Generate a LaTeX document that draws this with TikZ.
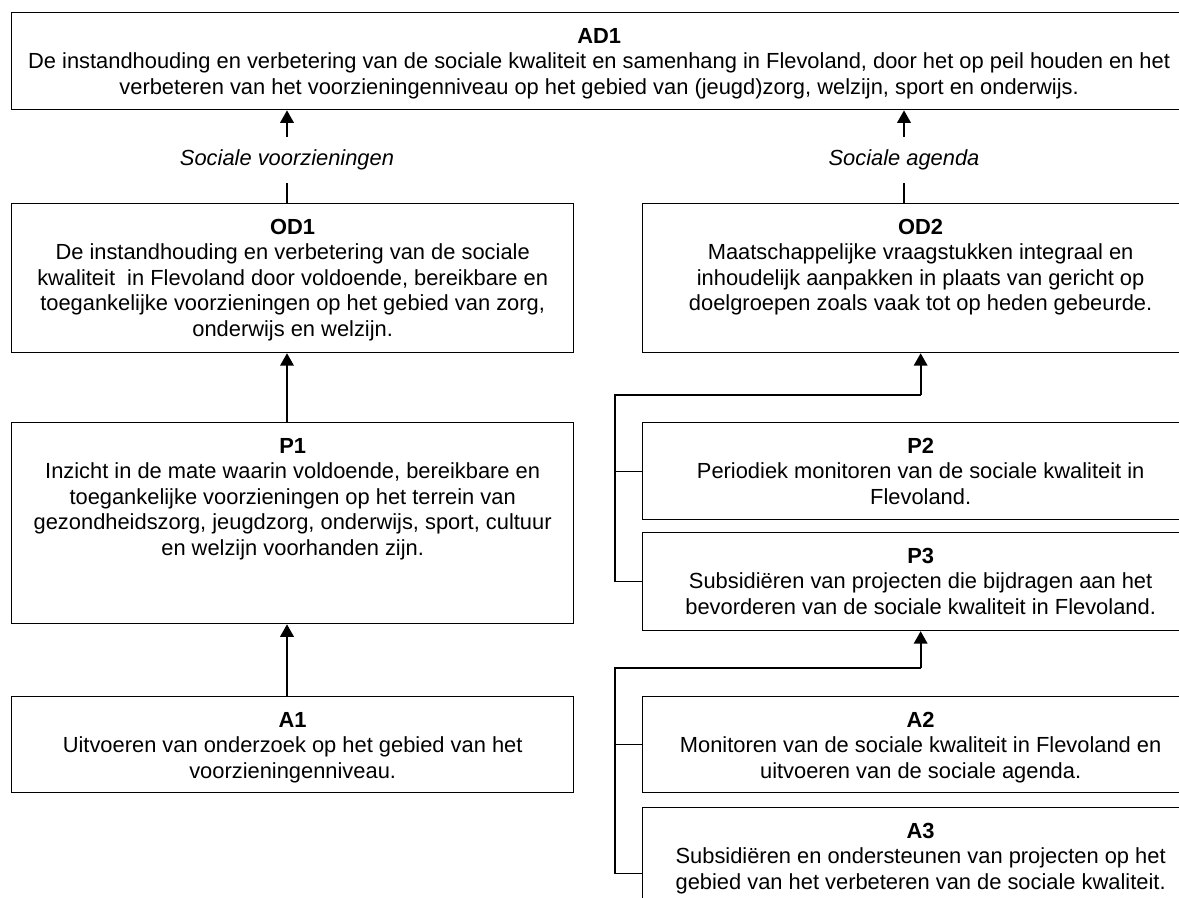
\documentclass[tikz,border=0pt]{standalone}
\usepackage{fontspec}
\setmainfont{Liberation Sans}
\usetikzlibrary{positioning,arrows.meta}

\begin{document}
\begin{tikzpicture}[x=0.48pt, y=-0.48pt,
    goal/.style={rectangle, draw=black, line width=0.6pt, anchor=north west, inner sep=0pt, minimum width=266.9pt},
    goaltext/.style={align=center, inner sep=0pt, font=\fontsize{10.5}{12.25}\selectfont},
    theme/.style={inner sep=0pt, minimum height=22pt, font=\fontsize{10.5}{12.25}\selectfont\itshape},
    link/.style={line width=0.6pt},
    uparrow/.style={-{Triangle[length=6pt, width=6.5pt]}, line width=0.9pt}
]
\useasboundingbox (0,0) rectangle (1179,897);
\clip (0,0) rectangle (1179,897);

% boxes
\node[goal, minimum width=564pt, minimum height=46.6pt] (ad1) at (11,12) {};
\node[goal, minimum width=269.8pt, minimum height=71.5pt] (od1) at (11,203) {};
\node[goal, minimum height=71.5pt] (od2) at (642,203) {};
\node[goal, minimum width=269.8pt, minimum height=96.5pt] (p1) at (11,422) {};
\node[goal, minimum height=46.6pt] (p2) at (642,422) {};
\node[goal, minimum height=47pt] (p3) at (642,532) {};
\node[goal, minimum width=269.8pt, minimum height=46.1pt] (a1) at (11,696) {};
\node[goal, minimum height=46.1pt] (a2) at (642,696) {};
\node[goal, minimum height=63.4pt] (a3) at (642,807) {};

% texts
\node[goaltext, below=7.5pt of ad1.north] (ad1text) {\textbf{AD1}\\De instandhouding en verbetering van de sociale kwaliteit en samenhang in Flevoland, door het op peil houden en het\\verbeteren van het voorzieningenniveau op het gebied van (jeugd)zorg, welzijn, sport en onderwijs.};
\node[goaltext, below=7.5pt of od1.north] (od1text) {\textbf{OD1}\\De instandhouding en verbetering van de sociale\\kwaliteit\ \ in Flevoland door voldoende, bereikbare en\\toegankelijke voorzieningen op het gebied van zorg,\\onderwijs en welzijn.};
\node[goaltext, below=7.5pt of od2.north] (od2text) {\textbf{OD2}\\Maatschappelijke vraagstukken integraal en\\inhoudelijk aanpakken in plaats van gericht op\\doelgroepen zoals vaak tot op heden gebeurde.};
\node[goaltext, below=7.5pt of p1.north] (p1text) {\textbf{P1}\\Inzicht in de mate waarin voldoende, bereikbare en\\toegankelijke voorzieningen op het terrein van\\gezondheidszorg, jeugdzorg, onderwijs, sport, cultuur\\en welzijn voorhanden zijn.};
\node[goaltext, below=7.5pt of p2.north] (p2text) {\textbf{P2}\\Periodiek monitoren van de sociale kwaliteit in\\Flevoland.};
\node[goaltext, below=7.5pt of p3.north] (p3text) {\textbf{P3}\\Subsidiëren van projecten die bijdragen aan het\\bevorderen van de sociale kwaliteit in Flevoland.};
\node[goaltext, below=7.5pt of a1.north] (a1text) {\textbf{A1}\\Uitvoeren van onderzoek op het gebied van het\\voorzieningenniveau.};
\node[goaltext, below=7.5pt of a2.north] (a2text) {\textbf{A2}\\Monitoren van de sociale kwaliteit in Flevoland en\\uitvoeren van de sociale agenda.};
\node[goaltext, below=7.5pt of a3.north] (a3text) {\textbf{A3}\\Subsidiëren en ondersteunen van projecten op het\\gebied van het verbeteren van de sociale kwaliteit.};

% themes
\node[theme] (voorz) at (287,160) {Sociale voorzieningen};
\node[theme] (agenda) at (904,160) {Sociale agenda};

% connectors
\draw[link] (voorz.south |- od1.north) -- (voorz.south);
\draw[link] (agenda.south |- od2.north) -- (agenda.south);
\draw[uparrow] (voorz.north) -- (voorz.north |- ad1.south);
\draw[uparrow] (agenda.north) -- (agenda.north |- ad1.south);
\draw[uparrow] (voorz.south |- p1.north) -- (voorz.south |- od1.south);
\draw[uparrow] (voorz.south |- a1.north) -- (voorz.south |- p1.south);

\coordinate (j1) at (615,395);
\draw[link] (p3.west) -| (j1) -- (j1 -| od2.south);
\draw[link] (p2.west) -- (p2.west -| j1);
\draw[uparrow] (j1 -| od2.south) -- (od2.south);

\coordinate (j2) at (615,668);
\draw[link] (a3.west) -| (j2) -- (j2 -| p3.south);
\draw[link] (a2.west) -- (a2.west -| j2);
\draw[uparrow] (j2 -| p3.south) -- (p3.south);
\end{tikzpicture}
\end{document}
